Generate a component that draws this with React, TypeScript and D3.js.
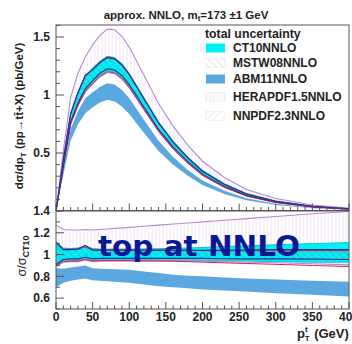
import React from "react";
import * as d3 from "d3";

// transverse-momentum grid (GeV)
const PT = [0, 10, 20, 30, 40, 50, 60, 70, 80, 90, 100, 120, 140, 160, 180, 200, 230, 260, 300, 350, 400];

// dσ/dpT bands (pb/GeV), lower / upper edge of the total uncertainty
const CT10_LO = [0, 0.395, 0.756, 0.917, 1.037, 1.106, 1.169, 1.207, 1.197, 1.15, 1.074, 0.884, 0.694, 0.54, 0.417, 0.312, 0.207, 0.132, 0.075, 0.035, 0.017];
const CT10_HI = [0, 0.445, 0.844, 1.028, 1.166, 1.234, 1.292, 1.334, 1.323, 1.271, 1.187, 0.978, 0.769, 0.602, 0.466, 0.351, 0.236, 0.151, 0.087, 0.042, 0.02];
const MSTW_LO = [0, 0.382, 0.768, 0.931, 1.053, 1.123, 1.187, 1.226, 1.216, 1.168, 1.09, 0.897, 0.704, 0.55, 0.425, 0.318, 0.212, 0.134, 0.077, 0.036, 0.017];
const MSTW_HI = [0, 0.439, 0.836, 1.019, 1.172, 1.217, 1.279, 1.321, 1.31, 1.258, 1.175, 0.967, 0.759, 0.593, 0.458, 0.343, 0.229, 0.146, 0.084, 0.04, 0.019];
const ABM_LO = [0, 0.311, 0.608, 0.747, 0.842, 0.895, 0.935, 0.959, 0.945, 0.901, 0.836, 0.674, 0.518, 0.399, 0.304, 0.224, 0.147, 0.092, 0.052, 0.024, 0.011];
const ABM_HI = [0, 0.365, 0.704, 0.863, 0.972, 1.024, 1.07, 1.102, 1.09, 1.043, 0.972, 0.786, 0.606, 0.465, 0.354, 0.264, 0.174, 0.109, 0.062, 0.029, 0.0135];
const HERA_LO = [0, 0.391, 0.748, 0.907, 1.026, 1.094, 1.156, 1.194, 1.184, 1.137, 1.062, 0.874, 0.686, 0.536, 0.414, 0.31, 0.206, 0.13, 0.074, 0.035, 0.016];
const HERA_HI = [0, 0.517, 0.98, 1.188, 1.328, 1.433, 1.513, 1.568, 1.562, 1.506, 1.413, 1.172, 0.927, 0.73, 0.568, 0.429, 0.289, 0.186, 0.108, 0.052, 0.025];
const NNPDF_LO = [0, 0.393, 0.752, 0.912, 1.031, 1.1, 1.162, 1.2, 1.191, 1.143, 1.068, 0.877, 0.687, 0.535, 0.411, 0.307, 0.203, 0.129, 0.073, 0.034, 0.016];
const NNPDF_HI = [0, 0.441, 0.84, 1.019, 1.156, 1.223, 1.285, 1.327, 1.317, 1.264, 1.181, 0.97, 0.761, 0.593, 0.458, 0.342, 0.228, 0.145, 0.083, 0.039, 0.019];

// ratio to the CT10 central value, lower / upper edge
const R_CT10_LO = [0.89, 0.94, 0.945, 0.945, 0.96, 0.945, 0.95, 0.95, 0.95, 0.95, 0.95, 0.95, 0.95, 0.948, 0.947, 0.945, 0.942, 0.94, 0.935, 0.93, 0.93];
const R_CT10_HI = [1.12, 1.06, 1.055, 1.06, 1.08, 1.055, 1.05, 1.05, 1.05, 1.05, 1.05, 1.052, 1.054, 1.057, 1.06, 1.065, 1.074, 1.08, 1.09, 1.1, 1.11];
const R_MSTW_LO = [0.91, 0.955, 0.96, 0.96, 0.975, 0.96, 0.965, 0.965, 0.965, 0.965, 0.965, 0.965, 0.965, 0.965, 0.965, 0.965, 0.962, 0.96, 0.96, 0.958, 0.955];
const R_MSTW_HI = [1.11, 1.045, 1.045, 1.05, 1.085, 1.04, 1.04, 1.04, 1.04, 1.04, 1.04, 1.04, 1.04, 1.04, 1.04, 1.04, 1.04, 1.042, 1.045, 1.045, 1.045];
const R_ABM_LO = [0.7, 0.74, 0.76, 0.77, 0.78, 0.765, 0.76, 0.755, 0.75, 0.745, 0.74, 0.725, 0.71, 0.7, 0.69, 0.68, 0.67, 0.66, 0.645, 0.63, 0.615];
const R_ABM_HI = [0.875, 0.87, 0.88, 0.89, 0.9, 0.875, 0.87, 0.868, 0.865, 0.862, 0.86, 0.845, 0.83, 0.815, 0.805, 0.8, 0.79, 0.78, 0.77, 0.76, 0.75];
const R_HERA_LO = [0.89, 0.93, 0.935, 0.935, 0.95, 0.935, 0.94, 0.94, 0.94, 0.94, 0.94, 0.94, 0.94, 0.94, 0.94, 0.94, 0.935, 0.93, 0.925, 0.915, 0.905];
const R_HERA_HI = [1.27, 1.23, 1.225, 1.225, 1.23, 1.225, 1.23, 1.235, 1.24, 1.245, 1.25, 1.26, 1.27, 1.28, 1.29, 1.3, 1.315, 1.33, 1.35, 1.375, 1.395];
const R_NNPDF_LO = [0.9, 0.935, 0.94, 0.94, 0.955, 0.94, 0.945, 0.945, 0.945, 0.945, 0.945, 0.943, 0.941, 0.939, 0.935, 0.93, 0.924, 0.918, 0.91, 0.9, 0.89];
const R_NNPDF_HI = [1.11, 1.05, 1.05, 1.05, 1.07, 1.045, 1.045, 1.045, 1.045, 1.045, 1.045, 1.043, 1.042, 1.041, 1.04, 1.035, 1.035, 1.035, 1.035, 1.035, 1.035];

const X_TICKS = [0, 50, 100, 150, 200, 250, 300, 350, 400];
const TOP_TICKS = [0.5, 1, 1.5];
const RATIO_TICKS = [0.6, 0.8, 1, 1.2, 1.4];

const LEGEND = ["CT10NNLO", "MSTW08NNLO", "ABM11NNLO", "HERAPDF1.5NNLO", "NNPDF2.3NNLO"];

const FONT = "'Liberation Sans', Arial, Helvetica, sans-serif";
const INK = "#222";

const C_CT10 = "#00f2f6";
const C_CT10_EDGE = "#00c6dc";
const C_ABM = "#5aa8df";
const C_MSTW = "#2f2b8c";
const C_HERA = "#b48ad8";
const C_NNPDF = "#e3223e";

export default function App() {
  const L = 56, R = 349;
  const topY0 = 25, topY1 = 210.5;
  const ratY0 = 211, ratY1 = 309;

  const x = d3.scaleLinear().domain([0, 400]).range([L, R]);
  const yTop = d3.scaleLinear().domain([0, 1.6]).range([211, 25.4]);
  const yRat = d3.scaleLinear().domain([0.5, 1.4]).range([ratY1, ratY0]);

  const band = (y: d3.ScaleLinear<number, number>, lo: number[], hi: number[]) =>
    d3.area<number>().x((_, i) => x(PT[i])).y0((_, i) => y(lo[i])).y1((_, i) => y(hi[i]))(PT) || "";
  const edge = (y: d3.ScaleLinear<number, number>, v: number[]) =>
    d3.line<number>().x((_, i) => x(PT[i])).y((_, i) => y(v[i]))(PT) || "";

  const panel = (
    y: d3.ScaleLinear<number, number>,
    s: { ct: number[][]; mstw: number[][]; abm: number[][]; hera: number[][]; nnpdf: number[][] },
    clip: string
  ) => (
    <g clipPath={`url(#${clip})`}>
      <path d={band(y, s.hera[0], s.hera[1])} fill="url(#hatchHera)" />
      <path d={band(y, s.abm[0], s.abm[1])} fill={C_ABM} />
      <path d={band(y, s.ct[0], s.ct[1])} fill={C_CT10} />
      <path d={band(y, s.mstw[0], s.mstw[1])} fill="url(#hatchMstw)" />
      <path d={band(y, s.nnpdf[0], s.nnpdf[1])} fill="url(#hatchNnpdf)" />
      {[0, 1].map((k) => (
        <g key={k} fill="none">
          <path d={edge(y, s.ct[k])} stroke={C_CT10_EDGE} strokeWidth={1} />
          <path d={edge(y, s.hera[k])} stroke={C_HERA} strokeWidth={1.1} />
          <path d={edge(y, s.nnpdf[k])} stroke={C_NNPDF} strokeWidth={1} />
          <path d={edge(y, s.mstw[k])} stroke={C_MSTW} strokeWidth={1.1} />
        </g>
      ))}
    </g>
  );

  const topMinor = d3.range(0, 1.6001, 0.1);
  const ratMinor = d3.range(0.5, 1.4001, 0.1);
  const xMinor = d3.range(0, 400.001, 10);

  return (
    <svg
      width={352}
      height={344}
      style={{ position: "absolute", left: 0, top: 0, background: "#fff" }}
      fontFamily={FONT}
    >
      <defs>
        <clipPath id="clipTop">
          <rect x={L} y={topY0} width={R - L} height={topY1 - topY0} />
        </clipPath>
        <clipPath id="clipRat">
          <rect x={L} y={ratY0} width={R - L} height={ratY1 - ratY0} />
        </clipPath>
        <pattern id="hatchHera" width={3.6} height={10} patternUnits="userSpaceOnUse">
          <line x1={1} y1={0} x2={1} y2={10} stroke="#e6cfee" strokeWidth={0.6} />
        </pattern>
        <pattern id="hatchMstw" width={5} height={5} patternUnits="userSpaceOnUse" patternTransform="rotate(-45)">
          <line x1={0} y1={0} x2={0} y2={5} stroke="#23308f" strokeOpacity={0.45} strokeWidth={0.8} />
        </pattern>
        <pattern id="hatchNnpdf" width={5} height={5} patternUnits="userSpaceOnUse" patternTransform="rotate(45)">
          <line x1={0} y1={0} x2={0} y2={5} stroke="#d84a62" strokeOpacity={0.4} strokeWidth={0.8} />
        </pattern>
      </defs>

      {/* title */}
      <text x={186} y={19} textAnchor="middle" fontSize={11.5} fontWeight="bold" fill={INK}>
        approx. NNLO, m<tspan fontSize={8} dy={2}>t</tspan>
        <tspan dy={-2}>=173 ±1 GeV</tspan>
      </text>

      {/* distribution panel */}
      {panel(
        yTop,
        {
          ct: [CT10_LO, CT10_HI],
          mstw: [MSTW_LO, MSTW_HI],
          abm: [ABM_LO, ABM_HI],
          hera: [HERA_LO, HERA_HI],
          nnpdf: [NNPDF_LO, NNPDF_HI],
        },
        "clipTop"
      )}

      {/* ratio panel */}
      {panel(
        yRat,
        {
          ct: [R_CT10_LO, R_CT10_HI],
          mstw: [R_MSTW_LO, R_MSTW_HI],
          abm: [R_ABM_LO, R_ABM_HI],
          hera: [R_HERA_LO, R_HERA_HI],
          nnpdf: [R_NNPDF_LO, R_NNPDF_HI],
        },
        "clipRat"
      )}

      {/* frames */}
      <rect x={L} y={topY0} width={R - L} height={topY1 - topY0} fill="none" stroke="#555" strokeWidth={1} />
      <rect x={L} y={ratY0} width={R - L} height={ratY1 - ratY0} fill="none" stroke="#555" strokeWidth={1} />

      {/* ticks */}
      <g stroke="#555" strokeWidth={1}>
        {topMinor.map((v) => {
          const major = TOP_TICKS.some((t) => Math.abs(t - v) < 1e-6);
          return <line key={`tm${v}`} x1={L} x2={L + (major ? 8 : 4)} y1={yTop(v)} y2={yTop(v)} />;
        })}
        {ratMinor.map((v) => {
          const major = RATIO_TICKS.some((t) => Math.abs(t - v) < 1e-6);
          return <line key={`rm${v}`} x1={L} x2={L + (major ? 8 : 4)} y1={yRat(v)} y2={yRat(v)} />;
        })}
        {xMinor.map((v) => {
          const major = X_TICKS.includes(Math.round(v));
          const len = major ? 7 : 3.5;
          return (
            <g key={`xm${v}`}>
              <line x1={x(v)} x2={x(v)} y1={topY1} y2={topY1 - len} />
              <line x1={x(v)} x2={x(v)} y1={ratY1} y2={ratY1 - len} />
            </g>
          );
        })}
      </g>

      {/* tick labels */}
      <g fontSize={12} fontWeight="bold" fill={INK} textAnchor="end">
        {TOP_TICKS.map((v) => (
          <text key={`tl${v}`} x={50} y={yTop(v) + 4.3}>
            {String(v)}
          </text>
        ))}
        {RATIO_TICKS.map((v) => (
          <text key={`rl${v}`} x={50} y={yRat(v) + 4.3}>
            {String(v)}
          </text>
        ))}
      </g>
      <g fontSize={12} fontWeight="bold" fill={INK} textAnchor="middle">
        {X_TICKS.map((v) => (
          <text key={`xl${v}`} x={x(v)} y={321}>
            {String(v)}
          </text>
        ))}
      </g>

      {/* axis titles */}
      <text x={297} y={338} fontSize={13} fontWeight="bold" fill={INK}>
        p<tspan fontSize={8} dy={-6}>t</tspan>
        <tspan fontSize={8} dx={-3} dy={9}>T</tspan>
        <tspan dy={-3} dx={1}> (GeV)</tspan>
      </text>
      <text
        transform="translate(23,116) rotate(-90)"
        textAnchor="middle"
        fontSize={11.5}
        fontWeight="bold"
        fill={INK}
      >
        dσ/dp<tspan fontSize={8} dy={2.5}>T</tspan>
        <tspan dy={-2.5}> (pp→tt̄+X) (pb/GeV)</tspan>
      </text>
      <text transform="translate(26,256) rotate(-90)" textAnchor="middle" fontSize={12.5} fill={INK}>
        σ/σ<tspan fontSize={9} fontWeight="bold" dy={3}>CT10</tspan>
      </text>

      {/* legend */}
      <g fontFamily={FONT} fontWeight="bold" fill={INK}>
        <text x={205} y={38} fontSize={12.3}>total uncertainty</text>
        {LEGEND.map((name, i) => {
          const yc = [48, 63, 79, 97, 116][i];
          const fills = [C_CT10, "url(#hatchMstw)", C_ABM, "url(#hatchHera)", "url(#hatchNnpdf)"];
          return (
            <g key={name}>
              <rect x={206} y={yc - 4.5} width={19} height={9} fill={fills[i]} opacity={i === 1 || i === 4 ? 0.7 : 1} />
              {(i === 1 || i === 3 || i === 4) && (
                <rect x={206} y={yc - 4.5} width={19} height={9} fill="none" stroke="#e8e8f0" strokeWidth={0.6} />
              )}
              <text x={233} y={yc + 4.3} fontSize={12}>
                {name}
              </text>
            </g>
          );
        })}
      </g>

      {/* annotation */}
      <text
        x={98}
        y={256}
        fontFamily="'DejaVu Sans', sans-serif"
        fontWeight="bold"
        fontSize={28}
        fill="#0a1896"
        textLength={202}
        lengthAdjust="spacingAndGlyphs"
      >
        top at NNLO
      </text>
    </svg>
  );
}
